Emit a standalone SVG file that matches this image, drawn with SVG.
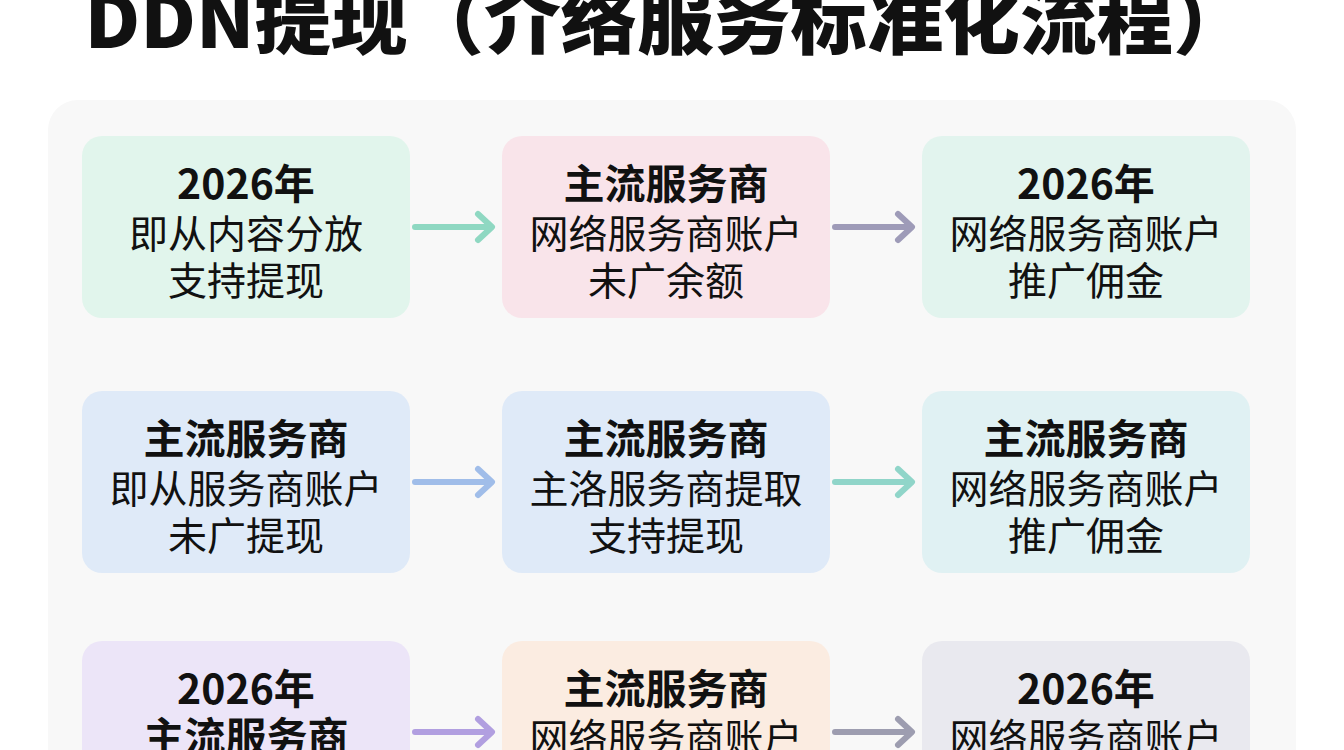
<svg xmlns="http://www.w3.org/2000/svg" width="1344" height="750" viewBox="0 0 1344 750">
<defs>
<style>
.t{font-family:"Noto Sans CJK SC","Noto Sans",sans-serif;text-anchor:middle;fill:#111}
.h{font-size:41px;font-weight:700}
.b{font-size:39px;font-weight:400}
.a{stroke-width:6;fill:none;stroke-linecap:round;stroke-linejoin:round}
</style>
</defs>
<rect width="1344" height="750" fill="#ffffff"/>
<rect x="48" y="100" width="1248" height="700" rx="30" fill="#f8f8f8"/>
<text class="t" x="667" y="48" textLength="1165" lengthAdjust="spacingAndGlyphs" style="font-size:74px;font-weight:900">DDN提现（介络服务标准化流程）</text>
<g id="n1"><rect x="82" y="136" width="328" height="182" rx="20" fill="#e1f5ec"/><text class="t h" x="246" y="199">2026年</text><text class="t b" x="246" y="248">即从内容分放</text><text class="t b" x="246" y="295">支持提现</text></g>
<g id="n2"><rect x="502" y="136" width="328" height="182" rx="20" fill="#f9e4ea"/><text class="t h" x="666" y="199">主流服务商</text><text class="t b" x="666" y="248">网络服务商账户</text><text class="t b" x="666" y="295">未广余额</text></g>
<g id="n3"><rect x="922" y="136" width="328" height="182" rx="20" fill="#e2f4ee"/><text class="t h" x="1086" y="199">2026年</text><text class="t b" x="1086" y="248">网络服务商账户</text><text class="t b" x="1086" y="295">推广佣金</text></g>
<g id="n4"><rect x="82" y="391" width="328" height="182" rx="20" fill="#dfeaf8"/><text class="t h" x="246" y="454">主流服务商</text><text class="t b" x="246" y="503">即从服务商账户</text><text class="t b" x="246" y="550">未广提现</text></g>
<g id="n5"><rect x="502" y="391" width="328" height="182" rx="20" fill="#dfeaf8"/><text class="t h" x="666" y="454">主流服务商</text><text class="t b" x="666" y="503">主洛服务商提取</text><text class="t b" x="666" y="550">支持提现</text></g>
<g id="n6"><rect x="922" y="391" width="328" height="182" rx="20" fill="#e0f1f3"/><text class="t h" x="1086" y="454">主流服务商</text><text class="t b" x="1086" y="503">网络服务商账户</text><text class="t b" x="1086" y="550">推广佣金</text></g>
<g id="n7"><rect x="82" y="641" width="328" height="182" rx="20" fill="#ece5f8"/><text class="t h" x="246" y="704">2026年</text><text class="t h" x="246" y="752">主流服务商</text></g>
<g id="n8"><rect x="502" y="641" width="328" height="182" rx="20" fill="#fbece1"/><text class="t h" x="666" y="704">主流服务商</text><text class="t b" x="666" y="752">网络服务商账户</text></g>
<g id="n9"><rect x="922" y="641" width="328" height="182" rx="20" fill="#e9e9ef"/><text class="t h" x="1086" y="704">2026年</text><text class="t b" x="1086" y="752">网络服务商账户</text></g>
<g id="connectors">
<path class="a" stroke="#8fd8c2" d="M415 227H490M478 214L492 227L478 240"/>
<path class="a" stroke="#9e9bb8" d="M835 227H910M898 214L912 227L898 240"/>
<path class="a" stroke="#a0bde9" d="M415 482H490M478 469L492 482L478 495"/>
<path class="a" stroke="#90d5c9" d="M835 482H910M898 469L912 482L898 495"/>
<path class="a" stroke="#b19fe0" d="M415 732H490M478 719L492 732L478 745"/>
<path class="a" stroke="#9d9db0" d="M835 732H910M898 719L912 732L898 745"/>
</g>
</svg>
